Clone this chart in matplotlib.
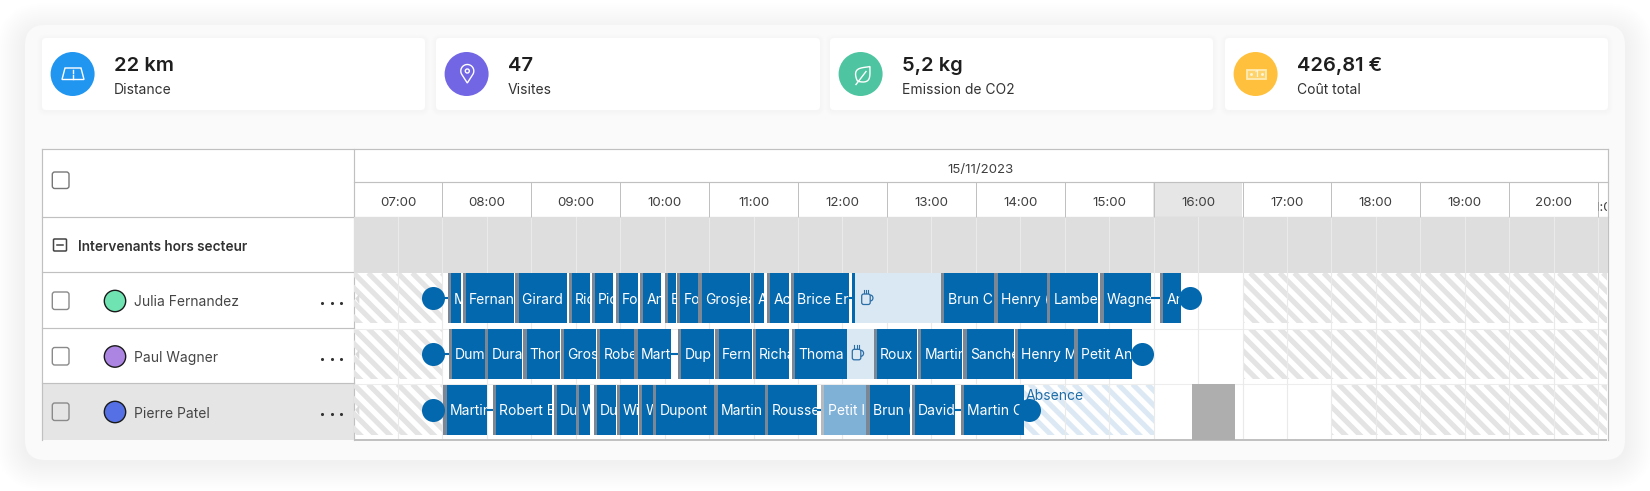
import matplotlib
matplotlib.use("Agg")
import matplotlib.pyplot as plt
import numpy as np
from matplotlib.patches import FancyBboxPatch, Circle, Rectangle, Polygon, Arc
from matplotlib.collections import LineCollection
from matplotlib.ticker import FixedLocator, FixedFormatter, NullFormatter

FONT = "Inter"
plt.rcParams["font.family"] = [FONT, "DejaVu Sans"]

# ---------- data ----------
kpi_values = ["22 km", "47", "5,2 kg", "426,81 €"]
kpi_labels = ["Distance", "Visites", "Emission de CO2", "Coût total"]
kpi_colors = ["#2196F0", "#7266E4", "#4EC5A0", "#FFC13D"]
hour_labels = ["07:00", "08:00", "09:00", "10:00", "11:00", "12:00", "13:00",
               "14:00", "15:00", "16:00", "17:00", "18:00", "19:00", "20:00"]
date_label = "15/11/2023"
group_label = "Intervenants hors secteur"
names = ["Julia Fernandez", "Paul Wagner", "Pierre Patel"]
avatar_colors = ["#6FE3B2", "#AC85E2", "#5570E4"]

r1_labels = ["M", "Fernan", "Girard :", "Ric", "Pic", "Fo", "An", "B", "Fo", "Grosjea",
             "A", "Ac", "Brice Er", "Brun C", "Henry (", "Lambe", "Wagne", "An"]
r1_start = [8.06, 8.23, 8.82, 9.42, 9.68, 9.95, 10.22, 10.50, 10.64, 10.88,
            11.47, 11.65, 11.92, 13.61, 14.21, 14.80, 15.40, 16.07]
r1_end = [8.21, 8.81, 9.40, 9.66, 9.92, 10.20, 10.46, 10.63, 10.88, 11.46,
          11.62, 11.90, 12.57, 14.20, 14.80, 15.37, 15.97, 16.31]

r2_labels = ["Dum", "Dura", "Thor", "Gros", "Robe", "Mart", "Dup", "Fern", "Richa",
             "Thoma", "Roux", "Martir", "Sanche", "Henry M", "Petit An"]
r2_start = [8.07, 8.48, 8.91, 9.33, 9.74, 10.16, 10.65, 11.07, 11.49,
            11.93, 12.85, 13.35, 13.86, 14.44, 15.11]
r2_end = [8.48, 8.90, 9.32, 9.73, 10.15, 10.57, 11.06, 11.48, 11.90,
          12.55, 13.34, 13.85, 14.43, 15.10, 15.76]

r3_labels = ["Martir", "Robert E", "Du", "W", "Du", "Wi", "W", "Dupont", "Martin",
             "Rousse", "Petit I", "Brun (", "David", "Martin C"]
r3_start = [8.01, 8.57, 9.25, 9.50, 9.70, 9.96, 10.21, 10.37, 11.06,
            11.63, 12.26, 12.77, 13.28, 13.83]
r3_end = [8.50, 9.23, 9.50, 9.66, 9.95, 10.20, 10.37, 11.05, 11.63,
          12.21, 12.76, 13.26, 13.77, 14.54]
r3_faded = ["Petit I"]

break_rows = [1, 2]
break_start = [12.61, 12.55]
break_end = [13.61, 12.85]
start_dots = [7.89, 7.89, 7.89]
end_dots = [16.41, 15.87, 14.60]
off_bands = [(1, 7.0, 8.0), (1, 17.0, 21.1), (2, 7.0, 8.0), (2, 17.0, 21.1),
             (3, 7.0, 8.0), (3, 18.0, 21.1)]
absence_span = (14.54, 16.0)
blocked_span = (16.43, 16.92)

# ---------- colours ----------
BLUE = "#0468AE"
STRIP = "#7B8794"
BORDER = "#C0C0C0"
TXT = "#3F3F3F"
W, H = 1650, 491
HOUR_PX = 88.9
X0, X1 = 353.5, 1607.5
Y0, Y1 = 217.3, 439.7

fig = plt.figure(figsize=(W / 100, H / 100), dpi=100, facecolor="white")
px = fig.add_axes([0, 0, 1, 1], zorder=0)
px.set_xlim(0, W)
px.set_ylim(H, 0)
px.axis("off")


def rrect(x0, y0, x1, y1, r, **kw):
    p = FancyBboxPatch((x0, y0), x1 - x0, y1 - y0,
                       boxstyle=f"round,pad=0,rounding_size={r}", **kw)
    px.add_patch(p)
    return p


# panel and shadow
for i in range(14):
    g = 28 - 2 * i
    rrect(25 - g, 25 - g + 6, 1625 + g, 460 + g + 2, 20 + g, fc="#000000", ec="none", alpha=0.0045)
rrect(25, 25, 1625, 460, 20, fc="#FAFAFA", ec="none")

# KPI cards
card_x = [(42, 425), (436, 820), (830, 1213), (1225, 1608)]
for (a, b), v, l, c in zip(card_x, kpi_values, kpi_labels, kpi_colors):
    for i in range(5):
        g = 5 - i
        rrect(a - g, 38 - g + 1, b + g, 110 + g + 1, 4 + g, fc="black", ec="none", alpha=0.004)
    rrect(a, 38, b, 110, 4, fc="white", ec="none")
    px.add_patch(Circle((a + 30.6, 74), 22, fc=c, ec="none"))
    px.text(a + 71.7, 66, v, fontsize=14.5, fontweight="semibold", color="#1E1E1E", va="center", ha="left")
    px.text(a + 71.7, 90, l, fontsize=10, color="#333333", va="center", ha="left")

# KPI icons
lw = 1.0
cx = 73
px.add_patch(Polygon([(cx - 11, 79.5), (cx + 11, 79.5), (cx + 8, 68), (cx - 8, 68)], fc="none", ec="white", lw=lw))
px.plot([cx, cx], [70, 73], color="white", lw=1)
px.plot([cx, cx], [75, 79], color="white", lw=1)
cx = 467.3
t = np.linspace(-np.pi * 1.2, np.pi * 0.2, 40)
xs = list(cx + 6.5 * np.cos(t)) + [cx]
ys = list(71 + 6.5 * np.sin(t)) + [83]
px.add_patch(Polygon(np.c_[xs, ys], fc="none", ec="white", lw=lw))
px.add_patch(Circle((cx, 71), 2, fc="none", ec="white", lw=lw))
# leaf
tip = np.array([870.0, 66.5])
base = np.array([857.5, 81.0])
axis_v = base - tip
perp = np.array([-axis_v[1], axis_v[0]]) / np.hypot(*axis_v)
t = np.linspace(0, 1, 40)
prof = 7.5 * np.sin(np.pi * t ** 1.35) ** 0.8
mid = tip + np.outer(t, axis_v)
leaf = np.r_[mid + np.outer(prof, perp), (mid - np.outer(prof, perp))[::-1]]
px.add_patch(Polygon(leaf, fc="none", ec="white", lw=lw))
px.plot([866, 856], [71.5, 84.5], color="white", lw=lw)
# banknote
cx = 1256.7
px.add_patch(Rectangle((cx - 9.3, 69.5), 18.6, 9.8, fc="#FFD36B", ec="#FFEBB5", lw=1.3))
px.text(cx, 74.6, "1", fontsize=6, color="#FFF4D6", ha="center", va="center", fontweight="bold")
px.plot([cx - 5.5, cx + 5.5], [74.4, 74.4], ls="none", marker=".", ms=2.2, color="#FFF4D6")

# table
px.add_patch(Rectangle((42, 149), X1 - 42, Y1 - 149, fc="white", ec="none"))
px.add_patch(Rectangle((42, 383.5), X0 - 42, Y1 - 383.5, fc="#E5E5E5", ec="none"))
px.add_patch(Rectangle((1153.4, 182), 89, 35, fc="#E6E6E6", ec="none"))
LW_T = 0.85
for y in [217.3, 272.3, 328.3, 383.3]:
    px.plot([42, X0], [y, y], color=BORDER, lw=LW_T)
px.plot([X0, X1], [182, 182], color=BORDER, lw=LW_T)
px.plot([X0, X1], [217.3, 217.3], color=BORDER, lw=LW_T)
px.plot([42, X1], [149, 149], color=BORDER, lw=LW_T)
px.plot([42, 42], [149, Y1], color=BORDER, lw=LW_T)
px.plot([X0, X0], [149, Y1], color=BORDER, lw=LW_T)
px.plot([X1, X1], [149, Y1], color=BORDER, lw=LW_T)

px.text(980, 170, date_label, fontsize=9.5, color=TXT, ha="center", va="center")
rrect(52.3, 172, 69, 188.5, 2.5, fc="white", ec="#777777", lw=1)
rrect(53.5, 239, 66.5, 251, 1, fc="white", ec="#444444", lw=1.1)
px.plot([57, 63], [245, 245], color="#444444", lw=1.1)
px.text(78, 247, group_label, fontsize=9.8, fontweight="semibold", color="#333333", va="center")

row_centers = [301, 356.5, 412]
for yc, n, c in zip(row_centers, names, avatar_colors):
    rrect(52.3, yc - 9, 69, yc + 8.5, 2.5, fc="none", ec="#8A8A8A", lw=1)
    px.add_patch(Circle((115, yc), 10.7, fc=c, ec="#1A1A1A", lw=1))
    px.text(134, yc + 1.5, n, fontsize=10, color="#454545", va="center")
    px.scatter([322, 331.7, 341.3], [yc + 2] * 3, s=5, color="#333333", lw=0)

# gantt axes
ax = fig.add_axes([X0 / W, 1 - Y1 / H, (X1 - X0) / W, (Y1 - Y0) / H], zorder=1)
ax.patch.set_alpha(0)
ax.set_xlim(7, 7 + (X1 - X0) / HOUR_PX)
ax.set_ylim(4, 0)
for s in ax.spines.values():
    s.set_visible(False)
ax.set_yticks([])
ax.xaxis.tick_top()
hours = np.arange(7, 22)
ax.xaxis.set_major_locator(FixedLocator(hours[1:]))
ax.xaxis.set_major_formatter(NullFormatter())
ax.xaxis.set_minor_locator(FixedLocator(np.arange(7.5, 21, 1.0)))
ax.xaxis.set_minor_formatter(FixedFormatter(hour_labels))
ax.tick_params(axis="x", which="major", length=25.2, width=0.72, color=BORDER, top=True)
ax.tick_params(axis="x", which="minor", length=0, pad=6, labelsize=9.6, labelcolor=TXT, top=True, labeltop=True)
ax.set_axisbelow(True)
ax.grid(True, which="both", axis="x", color="#EAEAEA", lw=0.8)

last = ax.text(7 + (1603 - X0) / HOUR_PX, -0.16, "21:00", fontsize=9.6, color=TXT, ha="center", va="center", clip_on=True)
clip = Rectangle((21.0, -0.65), 0.1, 0.65, transform=ax.transData)
last.set_clip_path(clip)

# group row and row lines
ax.barh(0, 15, left=7, height=1, align="edge", color="#DEDEDE", zorder=0.3)
ax.hlines([2, 3], 7, 21.1, color="#EDEDED", lw=0.8, zorder=0.4)
ax.hlines(4, 7, 21.1, color=BORDER, lw=1.4, zorder=0.6, clip_on=False)

BAR_H = 0.9
BAR_OFF = 0.01


def stripes(row, x0, x1, color, z=0.35):
    rect = Rectangle((x0, row + BAR_OFF), x1 - x0, BAR_H, transform=ax.transData)
    ytop = Y0 + (Y1 - Y0) * row / 4
    segs = []
    period = 14.7
    a = X0 + (x0 - 7) * HOUR_PX
    b = X0 + (x1 - 7) * HOUR_PX
    for k in np.arange(np.floor((a - 60 - X0) / period), np.ceil((b - X0) / period) + 1):
        xs = X0 + k * period
        segs.append([(xs, ytop), (xs + 60, ytop + 60)])
    lc = LineCollection(segs, colors=color, linewidths=3.7, transform=px.transData, zorder=z, capstyle="butt")
    ax.add_collection(lc, autolim=False)
    lc.set_clip_path(rect)


for row, a, b in off_bands:
    stripes(row, a, b, "#E4E4E4")
stripes(3, absence_span[0], absence_span[1], "#DCE9F4")
ax.barh(3, blocked_span[1] - blocked_span[0], left=blocked_span[0], height=1, align="edge", color="#AEAEAE", zorder=0.6)
ax.text(absence_span[0] + 0.02, 3.21, "Absence", fontsize=10, color="#1F6EA8", va="center", ha="left", zorder=2.5)

# small row marks
for row in (1, 2, 3):
    ax.add_patch(Polygon([(7.02, row + 0.46), (7.065, row + 0.38), (7.065, row + 0.56)], fc="#DADADA", ec="none", zorder=0.4))

STRIP_W = 0.037
rows = [(1, r1_labels, r1_start, r1_end), (2, r2_labels, r2_start, r2_end), (3, r3_labels, r3_start, r3_end)]
for row, labels, starts, ends in rows:
    yc = row + BAR_OFF + BAR_H / 2
    for e, s in zip(ends[:-1], starts[1:]):
        if s - e > 0.045:
            ax.hlines(yc, e, s, color=BLUE, lw=1.5, zorder=1.5)
    for lab, s, e in zip(labels, starts, ends):
        faded = lab in r3_faded
        body = "#7FB0D6" if faded else BLUE
        strip = "#B3BAC0" if faded else STRIP
        b = ax.barh(row + BAR_OFF, e - s, left=s, height=BAR_H, align="edge", color=body, zorder=2)[0]
        ax.barh(row + BAR_OFF, STRIP_W, left=s, height=BAR_H, align="edge", color=strip, zorder=2.1)
        t = ax.annotate(lab, (s, yc), xytext=(4.6, -0.8), textcoords="offset points", fontsize=10,
                        color="white", va="center", ha="left", zorder=2.4, annotation_clip=False)
        t.set_clip_path(b)

# breaks
for row, s, e, in zip(break_rows, break_start, break_end):
    ax.barh(row + BAR_OFF, e - s, left=s, height=BAR_H, align="edge", color="#DAE8F4", zorder=1.8)
ax.barh(1 + BAR_OFF, 0.034, left=break_start[0], height=BAR_H, align="edge", color=BLUE, zorder=2)
ax.barh(1 + BAR_OFF, STRIP_W, left=break_end[0], height=BAR_H, align="edge", color=STRIP, zorder=2.1)
ax.barh(2 + BAR_OFF, STRIP_W, left=break_end[1], height=BAR_H, align="edge", color=STRIP, zorder=2.1)


def cup(cx, cy):
    tr = px.transData
    c = "#2A6EA6"
    ax.add_patch(FancyBboxPatch((cx - 5, cy - 4), 8.5, 10.5, boxstyle="round,pad=0,rounding_size=2",
                                fc="none", ec=c, lw=0.9, transform=tr, zorder=3))
    ax.add_patch(Arc((cx + 3.5, cy), 5.5, 6, theta1=-90, theta2=90, ec=c, lw=0.9, transform=tr, zorder=3))
    for d in (-3, -0.7, 1.6):
        ax.plot([cx + d, cx + d], [cy - 8, cy - 5.5], color=c, lw=0.8, transform=tr, zorder=3)


cup(866.7, 298)
cup(857.3, 353.3)

# dots and lead-in connectors
ys = np.array([1, 2, 3]) + BAR_OFF + BAR_H / 2
for y, s, e, st in zip(ys, start_dots, end_dots, [r1_start, r2_start, r3_start]):
    ax.hlines(y, s, st[0], color=BLUE, lw=1.5, zorder=1.5)
ax.scatter(start_dots, ys, s=275, color=BLUE, lw=0, zorder=3, clip_on=False)
ax.scatter(end_dots, ys, s=275, color=BLUE, lw=0, zorder=3, clip_on=False)

fig.savefig("out.png", dpi=100, facecolor="white")
